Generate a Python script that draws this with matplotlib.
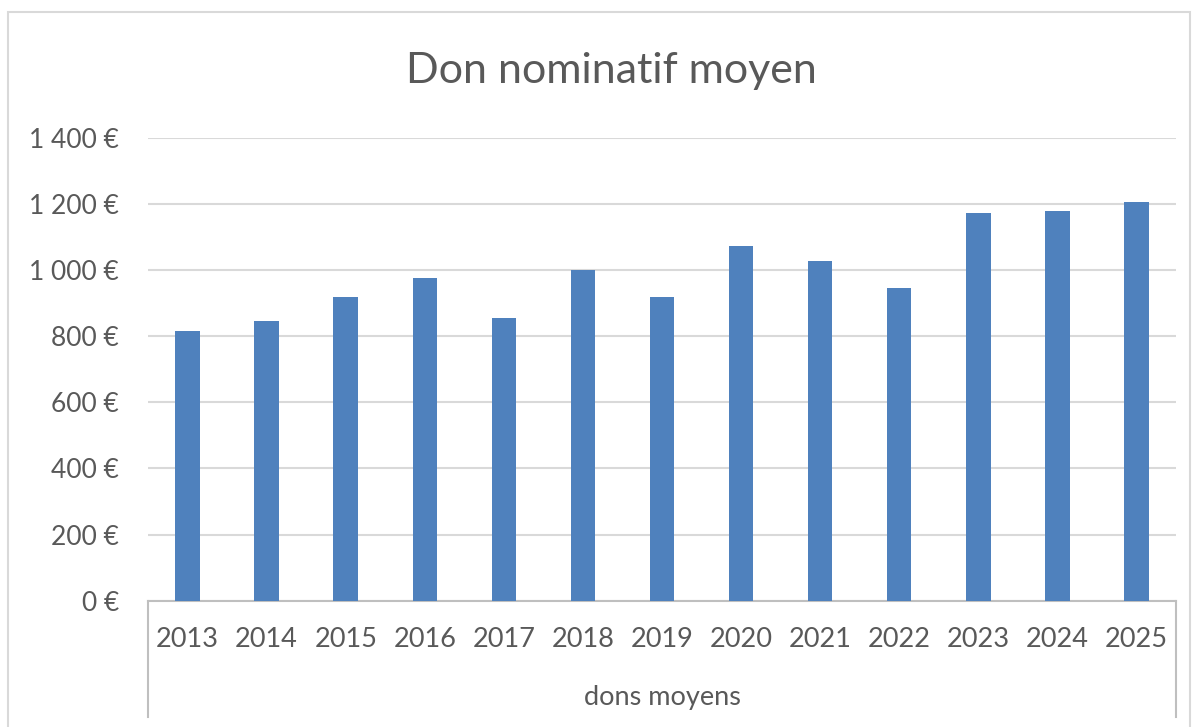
import matplotlib.pyplot as plt
from matplotlib.patches import Rectangle
from matplotlib.ticker import FuncFormatter

# values
years = ["2013", "2014", "2015", "2016", "2017", "2018", "2019",
         "2020", "2021", "2022", "2023", "2024", "2025"]
dons_moyens = [816, 846, 918, 976, 854, 1001, 917, 1073, 1028, 945, 1171, 1179, 1207]
yticks = [0, 200, 400, 600, 800, 1000, 1200, 1400]

title = "Don nominatif moyen"
group_label = "dons moyens"

plt.rcParams['font.family'] = ['Lato', 'DejaVu Sans']
txt = "#595959"

fig = plt.figure(figsize=(12, 7.27), dpi=100)
# outer chart border (bottom edge is cut off like in the screenshot)
fig.patches.append(Rectangle((8 / 1200, -0.05), 1182 / 1200, 1.05 - 12 / 727,
                             transform=fig.transFigure, fill=False,
                             edgecolor="#D9D9D9", linewidth=1.5))

ax = fig.add_axes([148 / 1200, 126.3 / 727, 1028 / 1200, 463 / 727])
x = range(len(years))
ax.bar(x, dons_moyens, width=0.31, color="#4F81BD", zorder=3)

ax.set_xlim(-0.5, len(years) - 0.5)
ax.set_ylim(0, 1400)
ax.set_yticks(yticks)
ax.yaxis.set_major_formatter(FuncFormatter(lambda v, p: f"{int(v):,} €".replace(",", " ")))
ax.grid(axis="y", color="#D9D9D9", linewidth=1.5, zorder=0)

ax.set_xticks(list(x))
ax.set_xticklabels(years)
ax.tick_params(axis="x", length=0, pad=19, labelsize=19.5, labelcolor=txt)
ax.tick_params(axis="y", length=0, pad=21, labelsize=19, labelcolor=txt)

for side in ["top", "right", "left"]:
    ax.spines[side].set_visible(False)
ax.spines["bottom"].set_color("#BFBFBF")
ax.spines["bottom"].set_linewidth(1.5)

# multi-level category box
depth = (717 - 600.7) / 463
for xs in (0, 1):
    ax.plot([xs, xs], [0, -depth], transform=ax.transAxes, color="#BFBFBF",
            linewidth=1.5, clip_on=False)
ax.text(0.5, -(698 - 600.7) / 463, group_label, transform=ax.transAxes,
        ha="center", va="center", fontsize=19.5, color=txt)

fig.text(611 / 1200, 1 - 71 / 727, title, ha="center", va="center",
         fontsize=31, color=txt)

fig.savefig("out.png", dpi=100)
